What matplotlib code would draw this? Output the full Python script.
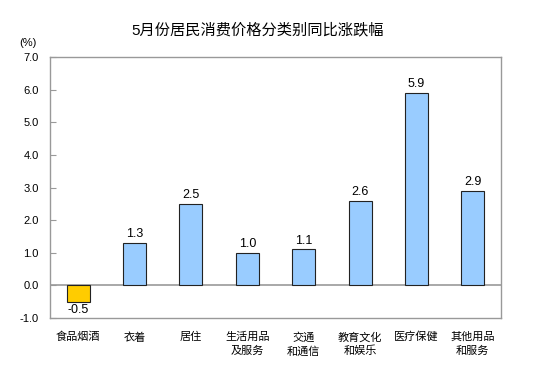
import matplotlib
matplotlib.use("Agg")
import matplotlib.pyplot as plt

plt.rcParams['font.family'] = ['Liberation Sans', 'Noto Sans CJK SC', 'DejaVu Sans']

categories = ["食品烟酒", "衣着", "居住", "生活用品\n及服务", "交通\n和通信", "教育文化\n和娱乐", "医疗保健", "其他用品\n和服务"]
values = [-0.5, 1.3, 2.5, 1.0, 1.1, 2.6, 5.9, 2.9]
yticks = [-1.0, 0.0, 1.0, 2.0, 3.0, 4.0, 5.0, 6.0, 7.0]
title = "5月份居民消费价格分类别同比涨跌幅"

fig = plt.figure(figsize=(5.5, 3.82), dpi=100)
ax = fig.add_axes([50/550, 1-318/382, 451/550, 261/382])

colors = ["#FFCC00" if v < 0 else "#99CCFF" for v in values]
x = list(range(len(values)))
ax.bar(x, values, width=0.41, color=colors, edgecolor="#222222", linewidth=0.8, zorder=3)
ax.axhline(0, color="#999999", linewidth=1.2, zorder=2)

for xi, v in zip(x, values):
    if v >= 0:
        ax.text(xi, v + 0.08, f"{v:.1f}", ha="center", va="bottom", fontsize=9)
    else:
        ax.text(xi, v - 0.06, f"{v:.1f}", ha="center", va="top", fontsize=9)

ax.set_xlim(-0.5, len(values) - 0.5)
ax.set_ylim(-1.0, 7.0)
ax.set_yticks(yticks)
ax.set_yticklabels([f"{t:.1f}" for t in yticks], fontsize=8)
ax.tick_params(axis='y', direction='in', length=4, color="#999999", pad=8)
ax.set_xticks(x)
ax.set_xticklabels(categories, fontsize=8, linespacing=1.4, va="top")
ax.tick_params(axis='x', length=0, pad=10)
for s in ax.spines.values():
    s.set_color("#999999")
    s.set_linewidth(1.0)

fig.text(258/550, 1-30/382, title, ha="center", va="center", fontsize=11)
fig.text(28/550, 1-43/382, "(%)", ha="center", va="center", fontsize=8)

fig.savefig("out.png", dpi=100)
